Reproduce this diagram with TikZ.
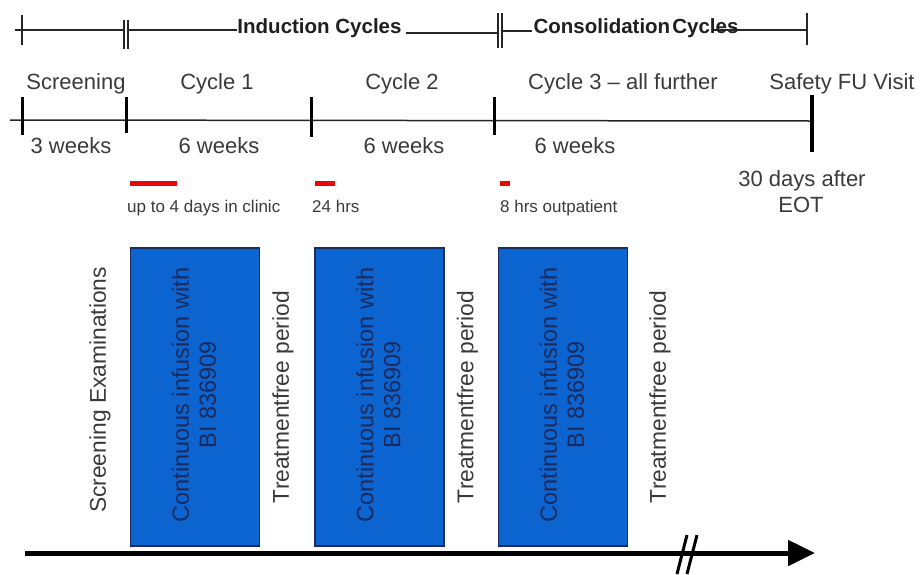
\documentclass[tikz,border=0pt]{standalone}
\usepackage{fontspec}
\setmainfont{Liberation Sans}
\usetikzlibrary{arrows.meta}
\definecolor{txt}{RGB}{58,58,62}
\definecolor{boxblue}{RGB}{12,100,208}
\definecolor{boxtxt}{RGB}{28,42,92}
\definecolor{redbar}{RGB}{228,10,10}
\begin{document}
\begin{tikzpicture}[x=1pt,y=-1pt,
  lbl/.style={font=\fontsize{22}{25}\selectfont, text=txt, inner sep=0pt, anchor=base},
  smalllbl/.style={font=\fontsize{17}{19}\selectfont, text=txt, inner sep=0pt, anchor=base west},
  hdr/.style={font=\bfseries\fontsize{20.5}{23}\selectfont, text=black!88, inner sep=0pt, anchor=base},
  vlbl/.style={font=\fontsize{22.8}{26}\selectfont, text=txt, inner sep=0pt, rotate=90},
  boxlbl/.style={font=\fontsize{23.5}{27}\selectfont, text=boxtxt, inner sep=0pt, rotate=90, align=center},
  infbox/.style={draw=boxtxt, line width=1.2pt, fill=boxblue, minimum width=129pt, minimum height=298pt, inner sep=0pt},
  thinline/.style={line width=1.2pt, black!85},
  thintick/.style={line width=1.6pt, black!85},
  tick/.style={line width=3pt, black},
  redmark/.style={line width=5pt, redbar},
  slash/.style={line width=3pt, black}
]
\useasboundingbox (0,0) rectangle (922,574);

% ---------- top phase line ----------
\node[hdr] (ind) at (319.5,33) {Induction Cycles};
\node[hdr] (cons) at (636,33) {Consolidation\hspace{0.1em}Cycles};
\coordinate (t0) at (15,30);
\coordinate (t1) at (22,30);
\coordinate (t2a) at (124,30);
\coordinate (t2b) at (128,30);
\coordinate (t3a) at (498,31);
\coordinate (t3b) at (502,31);
\coordinate (t4) at (807,30);
\draw[thinline] (t0) -- (t2a);
\draw[thinline] (t2b) -- (ind.west |- t2b);
\draw[thinline] ([xshift=4pt]ind.east |- 0,33) -- (t3a |- 0,33);
\draw[thinline] (t3b) -- ([xshift=-1pt]cons.west |- t3b);
\draw[thinline] (714,30) -- (t4);
\draw[thintick] (22,15) -- (22,45);
\draw[thintick] (124,20) -- (124,49);
\draw[thintick] (128,20) -- (128,49);
\draw[thintick] (498,13) -- (498,48);
\draw[thintick] (502,13) -- (502,48);
\draw[thintick] (807,13) -- (807,45);

% ---------- period labels ----------
\node[lbl] (scr) at (76,89) {Screening};
\node[lbl] (c1) at (217,89) {Cycle 1};
\node[lbl] (c2) at (402,89) {Cycle 2};
\node[lbl] (c3) at (623,89) {Cycle 3 -- all further};
\node[lbl] (sfu) at (842,89) {Safety FU Visit};

% ---------- second timeline ----------
\coordinate (l0) at (10,120);
\coordinate (l1) at (812,121);
\draw[thinline, line width=1.5pt] (l0) -- (l1);
\draw[tick] (22,97) -- (22,135);
\draw[tick] (126,97) -- (126,133);
\draw[tick] (311,97) -- (311,137);
\draw[tick] (494,97) -- (494,135);
\draw[line width=4pt] (812,95) -- (812,152);

\node[lbl] (w0) at (71,153) {3 weeks};
\node[lbl] (w1) at (219,153) {6 weeks};
\node[lbl] (w2) at (404,153) {6 weeks};
\node[lbl] (w3) at (575,153) {6 weeks};
\node[lbl] (eot1) at (802,186) {30 days after};
\node[lbl] (eot2) at (801,212) {EOT};

% ---------- hospital stays ----------
\draw[redmark] (130,183) -- (177,183);
\draw[redmark] (315,183) -- (335,183);
\draw[redmark] (500,183) -- (510,183);
\node[smalllbl] (s1) at (127,212) {up to 4 days in clinic};
\node[smalllbl] (s2) at (312,212) {24 hrs};
\node[smalllbl] (s3) at (500,212) {8 hrs outpatient};

% ---------- boxes and vertical labels ----------
\node[vlbl] (se) at (100,390) {Screening Examinations};
\node[infbox] (b1) at (195,397) {};
\node[boxlbl] (b1t) at (194,395) {Continuous infusion with\\BI 836909};
\node[vlbl] (tf1) at (283,397) {Treatmentfree period};
\node[infbox] (b2) at (379.5,397) {};
\node[boxlbl] (b2t) at (378.5,395) {Continuous infusion with\\BI 836909};
\node[vlbl] (tf2) at (467.5,397) {Treatmentfree period};
\node[infbox] (b3) at (563,397) {};
\node[boxlbl] (b3t) at (562,395) {Continuous infusion with\\BI 836909};
\node[vlbl] (tf3) at (660,397) {Treatmentfree period};

% ---------- time arrow ----------
\coordinate (a0) at (25,553);
\coordinate (a1) at (815,553);
\draw[line width=5pt, -{Triangle[length=27pt,width=25pt]}] (a0) -- (a1);
\draw[slash] (687,535) -- (677,574);
\draw[slash] (697,535) -- (687,574);
\end{tikzpicture}
\end{document}
